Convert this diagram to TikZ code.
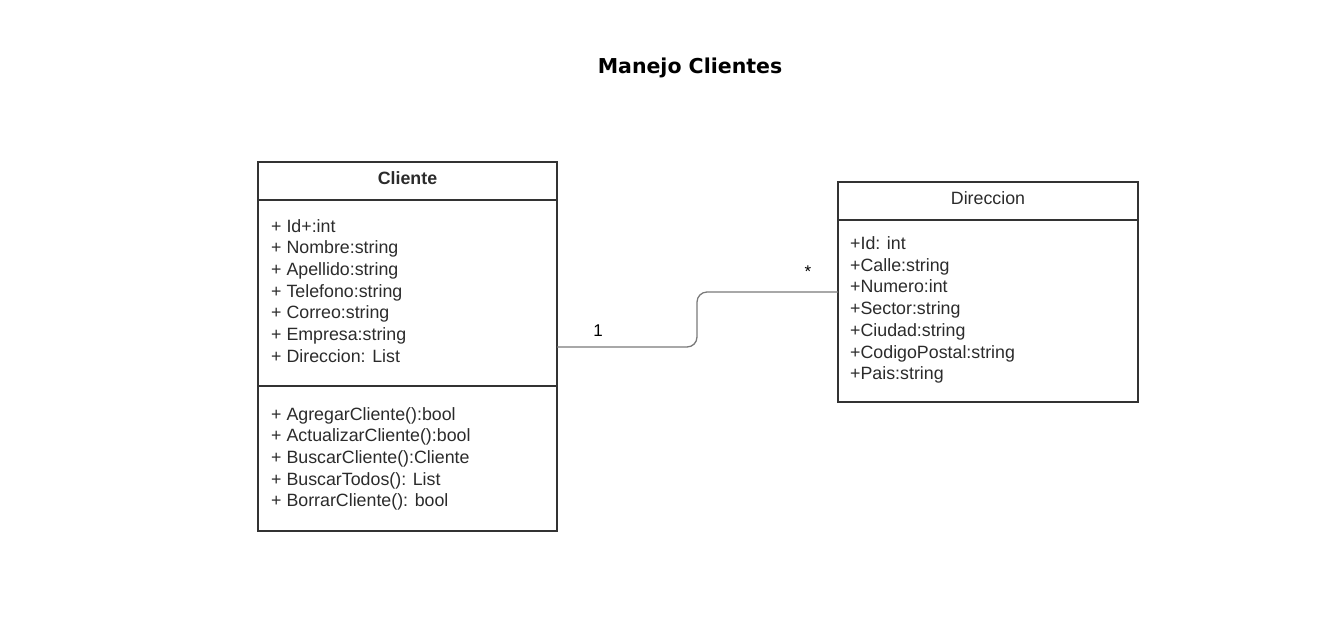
\documentclass[tikz,border=0pt]{standalone}
\usepackage{fontspec}
\setmainfont{Liberation Sans}
\newfontfamily\titlefont{DejaVu Sans}
\usetikzlibrary{positioning}
\definecolor{umlline}{HTML}{333333}
\definecolor{umltext}{HTML}{2B2B2B}
\definecolor{assocgray}{HTML}{7A7A7A}
\tikzset{
  compart/.style={draw=umlline, line width=2pt, inner sep=0pt, outer sep=0pt, anchor=north west},
  member/.style={anchor=base west, inner sep=0pt, text=umltext, font=\fontsize{17.8}{21}\selectfont},
  classname/.style={anchor=base, inner sep=0pt, text=umltext, font=\fontsize{17.8}{21}\selectfont},
  assoc/.style={draw=assocgray, line width=1.3pt, rounded corners=10pt},
  mult/.style={anchor=base, inner sep=0pt, text=black, font=\fontsize{17}{20}\selectfont}
}

\begin{document}
\begin{tikzpicture}[x=1pt, y=-1pt]
  \useasboundingbox (0,0) rectangle (1340,622);
  \node[inner sep=0pt, anchor=base, font=\titlefont\bfseries\fontsize{20.5}{24}\selectfont] (title) at (690,73) {Manejo Clientes};

  % Cliente
  \node[compart, minimum width=299pt, minimum height=38pt] (clihead) at (258,162) {};
  \node[compart, minimum width=299pt, minimum height=186pt] (cliattr) at (clihead.south west) {};
  \node[compart, minimum width=299pt, minimum height=145pt] (climeth) at (cliattr.south west) {};
  \node[classname, font=\fontsize{17.8}{21}\selectfont\bfseries] (cliname) at (407.5,184.5) {Cliente};
  \foreach \m [count=\i] in {+ Id+:int, + Nombre:string, + Apellido:string, + Telefono:string,
      + Correo:string, + Empresa:string, + Direccion: List}
    \node[member] (ca\i) at (271,{210.3+21.7*\i}) {\m};
  \foreach \m [count=\i] in {+ AgregarCliente():bool, + ActualizarCliente():bool,
      + BuscarCliente():Cliente, + BuscarTodos(): List, + BorrarCliente(): bool}
    \node[member] (cm\i) at (271,{398.3+21.7*\i}) {\m};

  % Direccion
  \node[compart, minimum width=300pt, minimum height=38pt] (dirhead) at (838,182) {};
  \node[compart, minimum width=300pt, minimum height=182pt] (dirattr) at (dirhead.south west) {};
  \node[classname] (dirname) at (988,204) {Direccion};
  \foreach \m [count=\i] in {+Id: int, +Calle:string, +Numero:int, +Sector:string,
      +Ciudad:string, +CodigoPostal:string, +Pais:string}
    \node[member] (da\i) at (850,{227.8+21.7*\i}) {\m};

  % association
  \draw[assoc] ([yshift=39pt]cliattr.south east) -- ++(140,0) |- ([yshift=19pt]dirattr.west);
  \node[mult] (mcli) at (598,336) {1};
  \node[mult] (mdir) at (808,277) {*};
\end{tikzpicture}
\end{document}
